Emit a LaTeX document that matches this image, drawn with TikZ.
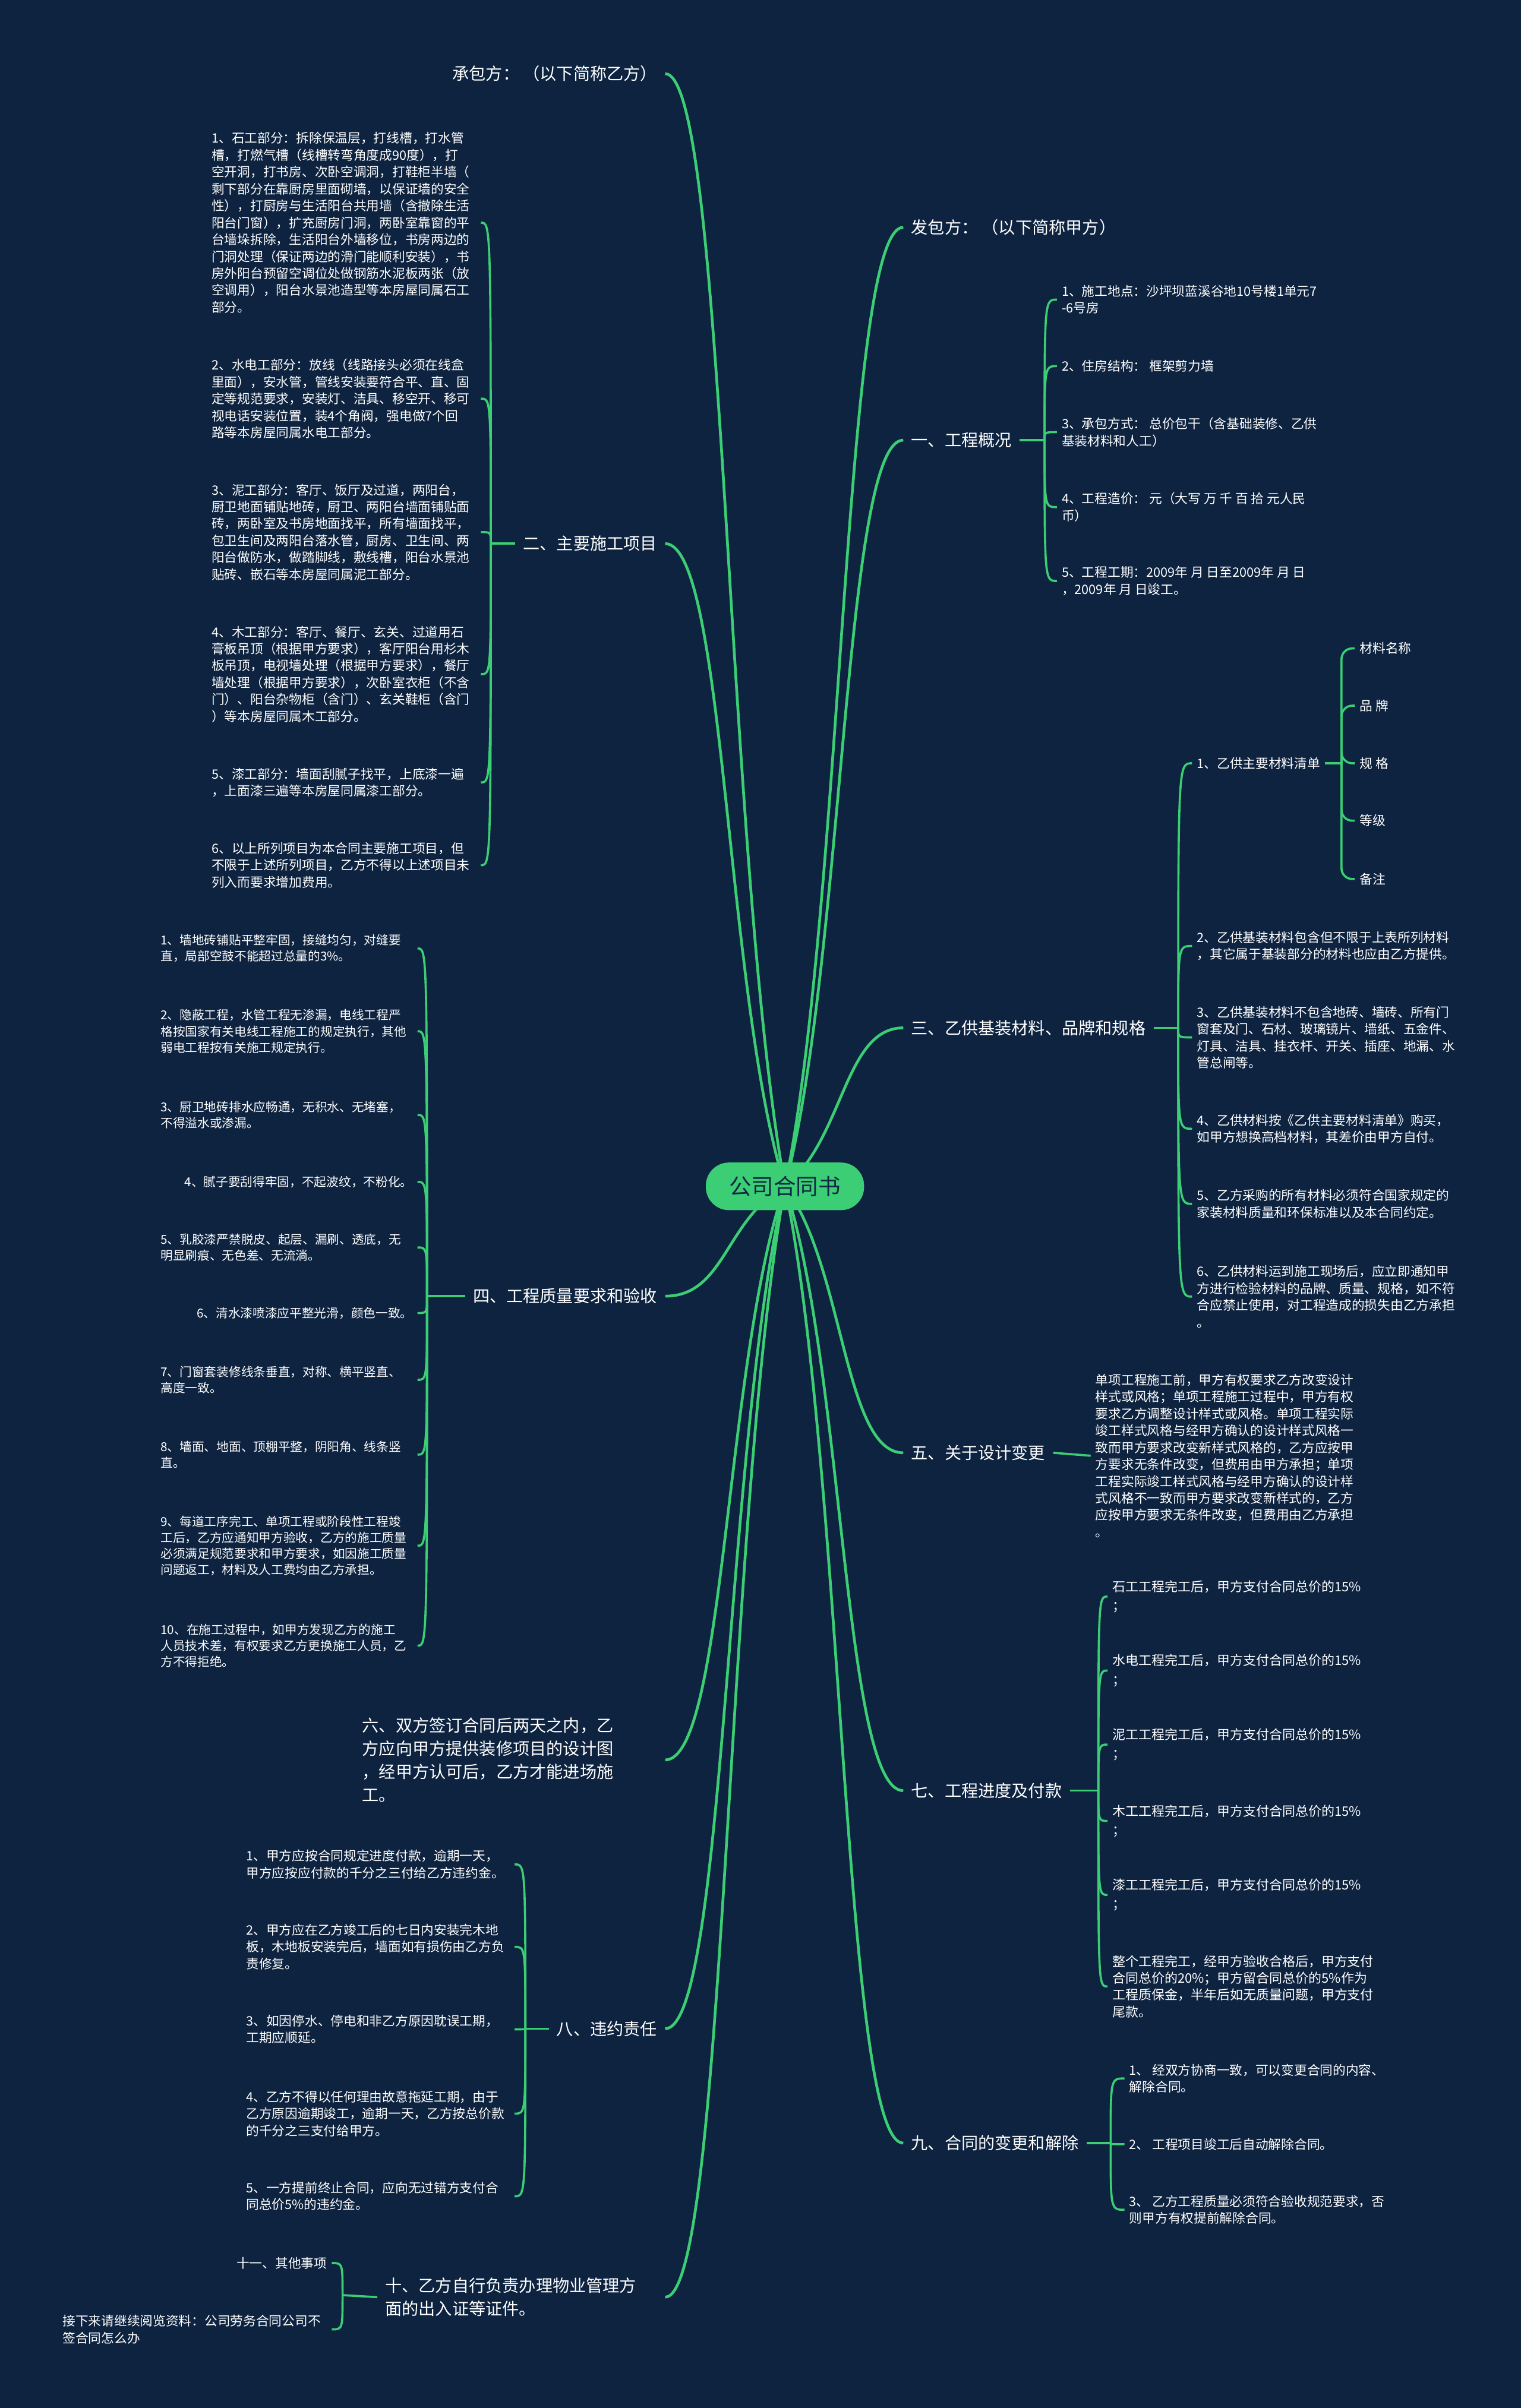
\documentclass[tikz,border=0pt]{standalone}
\usepackage{fontspec}
\setmainfont{Noto Sans CJK SC}
\usetikzlibrary{calc}
\pgfdeclarelayer{edges}
\pgfsetlayers{edges,main}
\definecolor{bgc}{RGB}{13,35,64}
\definecolor{lg}{RGB}{60,206,116}
\definecolor{rootc}{RGB}{60,206,116}
\definecolor{roottext}{RGB}{16,40,70}
\tikzset{
  lone/.style={draw=lg, line width=1.8pt},
  ltwo/.style={draw=lg, line width=1.4pt},
  topic/.style={text=white, font={\fontsize{10.9}{15}\selectfont}, inner sep=5pt, align=left},
  item/.style={text=white, font={\fontsize{8.4}{11}\selectfont}, inner sep=3pt, align=left},
  itemq/.style={item, font={\fontsize{8}{10.5}\selectfont}},
  itemp/.style={item, font={\fontsize{8.5}{12.5}\selectfont}},
  rootbox/.style={fill=rootc, text=roottext, rounded corners=15pt, minimum width=103pt, minimum height=31pt, font={\fontsize{14.5}{16}\selectfont}, inner sep=0pt},
}
\newcommand\topicline[2]{\draw[lone] let \p1=(#1), \p2=(#2) in (\p1) .. controls ({\x1+0.5*(\x2-\x1)},{\y1+0.3*(\y2-\y1)}) and ({\x1+0.5*(\x2-\x1)},\y2) .. (\p2);}
\newcommand\subline[2]{\draw[ltwo] (#1) .. controls (#1 |- #2) .. (#2);}
\begin{document}
\begin{tikzpicture}[x=1pt,y=-1pt]
\useasboundingbox (0,0) rectangle (990,1568);
\begin{pgfonlayer}{edges}
\fill[bgc] (0,0) rectangle (990,1568);
\end{pgfonlayer}

% root
\node[rootbox] (root) at (511,772.5) {公司合同书};

% right topics
\node[topic, anchor=west] (fb) at (588,148) {发包方： （以下简称甲方）};
\node[topic, anchor=west] (t1) at (588,286.6) {一、工程概况};
\node[topic, anchor=west] (t3) at (588,669.3) {三、乙供基装材料、品牌和规格};
\node[topic, anchor=west] (t5) at (588,946) {五、关于设计变更};
\node[topic, anchor=west] (t7) at (588,1166) {七、工程进度及付款};
\node[topic, anchor=west] (t9) at (588,1395.5) {九、合同的变更和解除};

% left topics
\node[topic, anchor=east] (cb) at (433,48) {承包方： （以下简称乙方）};
\node[topic, anchor=east] (t2) at (433,354) {二、主要施工项目};
\node[topic, anchor=east] (t4) at (433,844) {四、工程质量要求和验收};
\node[topic, anchor=east, text width=192pt] (t6) at (433,1146) {六、双方签订合同后两天之内，乙\\方应向甲方提供装修项目的设计图\\，经甲方认可后，乙方才能进场施\\工。};
\node[topic, anchor=east] (t8) at (433,1321) {八、违约责任};
\node[topic, anchor=east, text width=177pt] (t10) at (433,1495.8) {十、乙方自行负责办理物业管理方\\面的出入证等证件。};

% group 一
\coordinate (J1) at (680,286.6);
\node[item, anchor=west] (a1) at (688,195.1) {1、施工地点：沙坪坝蓝溪谷地10号楼1单元7\\-6号房};
\node[item, anchor=west] (a2) at (688,238.4) {2、住房结构： 框架剪力墙};
\node[item, anchor=west] (a3) at (688,281.4) {3、承包方式： 总价包干（含基础装修、乙供\\基装材料和人工）};
\node[item, anchor=west] (a4) at (688,330.2) {4、工程造价： 元（大写 万 千 百 拾 元人民\\币）};
\node[item, anchor=west] (a5) at (688,378.3) {5、工程工期：2009年 月 日至2009年 月 日\\，2009年 月 日竣工。};

% group 三
\coordinate (J3) at (767,669.3);
\node[item, anchor=west] (b1) at (776,497) {1、乙供主要材料清单};
\node[item, anchor=west] (b2) at (776,616) {2、乙供基装材料包含但不限于上表所列材料\\，其它属于基装部分的材料也应由乙方提供。};
\node[item, anchor=west] (b3) at (776,675.5) {3、乙供基装材料不包含地砖、墙砖、所有门\\窗套及门、石材、玻璃镜片、墙纸、五金件、\\灯具、洁具、挂衣杆、开关、插座、地漏、水\\管总闸等。};
\node[item, anchor=west] (b4) at (776,735) {4、乙供材料按《乙供主要材料清单》购买，\\如甲方想换高档材料，其差价由甲方自付。};
\node[item, anchor=west] (b5) at (776,783.9) {5、乙方采购的所有材料必须符合国家规定的\\家装材料质量和环保标准以及本合同约定。};
\node[item, anchor=west] (b6) at (776,844.3) {6、乙供材料运到施工现场后，应立即通知甲\\方进行检验材料的品牌、质量、规格，如不符\\合应禁止使用，对工程造成的损失由乙方承担\\。};

% materials list
\coordinate (Jm) at (873.3,497);
\node[item, anchor=west] (m1) at (882,422.2) {材料名称};
\node[item, anchor=west] (m2) at (882,459.5) {品 牌};
\node[item, anchor=west] (m3) at (882,497) {规 格};
\node[item, anchor=west] (m4) at (882,534.4) {等级};
\node[item, anchor=west] (m5) at (882,572.4) {备注};

% group 五
\node[item, anchor=west] (c1) at (710,947.9) {单项工程施工前，甲方有权要求乙方改变设计\\样式或风格；单项工程施工过程中，甲方有权\\要求乙方调整设计样式或风格。单项工程实际\\竣工样式风格与经甲方确认的设计样式风格一\\致而甲方要求改变新样式风格的，乙方应按甲\\方要求无条件改变，但费用由甲方承担；单项\\工程实际竣工样式风格与经甲方确认的设计样\\式风格不一致而甲方要求改变新样式的，乙方\\应按甲方要求无条件改变，但费用由乙方承担\\。};

% group 七
\coordinate (J7) at (715,1166);
\node[itemp, anchor=west] (d1) at (721,1039.6) {石工工程完工后，甲方支付合同总价的15\%\\；};
\node[itemp, anchor=west] (d2) at (721,1087.8) {水电工程完工后，甲方支付合同总价的15\%\\；};
\node[itemp, anchor=west] (d3) at (721,1136) {泥工工程完工后，甲方支付合同总价的15\%\\；};
\node[itemp, anchor=west] (d4) at (721,1185.7) {木工工程完工后，甲方支付合同总价的15\%\\；};
\node[itemp, anchor=west] (d5) at (721,1233.9) {漆工工程完工后，甲方支付合同总价的15\%\\；};
\node[item, anchor=west, font={\fontsize{8.5}{10.9}\selectfont}] (d6) at (721,1293.5) {整个工程完工，经甲方验收合格后，甲方支付\\合同总价的20\%；甲方留合同总价的5\%作为\\工程质保金，半年后如无质量问题，甲方支付\\尾款。};

% group 九
\coordinate (J9) at (723,1395.5);
\node[item, anchor=west] (e1) at (732,1353.4) {1、 经双方协商一致，可以变更合同的内容、\\解除合同。};
\node[item, anchor=west] (e2) at (732,1396.2) {2、 工程项目竣工后自动解除合同。};
\node[item, anchor=west] (e3) at (732,1438.9) {3、 乙方工程质量必须符合验收规范要求，否\\则甲方有权提前解除合同。};

% group 二
\coordinate (J2) at (319.5,354);
\node[item, anchor=east, text width=172pt] (f1) at (313,145) {1、石工部分：拆除保温层，打线槽，打水管\\槽，打燃气槽（线槽转弯角度成90度），打\\空开洞，打书房、次卧空调洞，打鞋柜半墙（\\剩下部分在靠厨房里面砌墙，以保证墙的安全\\性），打厨房与生活阳台共用墙（含撤除生活\\阳台门窗），扩充厨房门洞，两卧室靠窗的平\\台墙垛拆除，生活阳台外墙移位，书房两边的\\门洞处理（保证两边的滑门能顺利安装），书\\房外阳台预留空调位处做钢筋水泥板两张（放\\空调用），阳台水景池造型等本房屋同属石工\\部分。};
\node[item, anchor=east, text width=172pt] (f2) at (313,259.6) {2、水电工部分：放线（线路接头必须在线盒\\里面），安水管，管线安装要符合平、直、固\\定等规范要求，安装灯、洁具、移空开、移可\\视电话安装位置，装4个角阀，强电做7个回\\路等本房屋同属水电工部分。};
\node[item, anchor=east, text width=172pt] (f3) at (313,346.5) {3、泥工部分：客厅、饭厅及过道，两阳台，\\厨卫地面铺贴地砖，厨卫、两阳台墙面铺贴面\\砖，两卧室及书房地面找平，所有墙面找平，\\包卫生间及两阳台落水管，厨房、卫生间、两\\阳台做防水，做踏脚线，敷线槽，阳台水景池\\贴砖、嵌石等本房屋同属泥工部分。};
\node[item, anchor=east, text width=172pt] (f4) at (313,439) {4、木工部分：客厅、餐厅、玄关、过道用石\\膏板吊顶（根据甲方要求），客厅阳台用杉木\\板吊顶，电视墙处理（根据甲方要求），餐厅\\墙处理（根据甲方要求），次卧室衣柜（不含\\门）、阳台杂物柜（含门）、玄关鞋柜（含门\\）等本房屋同属木工部分。};
\node[item, anchor=east, text width=172pt] (f5) at (313,509.5) {5、漆工部分：墙面刮腻子找平，上底漆一遍\\，上面漆三遍等本房屋同属漆工部分。};
\node[item, anchor=east, text width=172pt] (f6) at (313,563.4) {6、以上所列项目为本合同主要施工项目，但\\不限于上述所列项目，乙方不得以上述项目未\\列入而要求增加费用。};

% group 四
\coordinate (J4) at (278,844);
\node[itemq, anchor=east, text width=164pt] (g1) at (271.8,617.6) {1、墙地砖铺贴平整牢固，接缝均匀，对缝要\\直，局部空鼓不能超过总量的3\%。};
\node[itemq, anchor=east, text width=164pt] (g2) at (271.8,671.5) {2、隐蔽工程，水管工程无渗漏，电线工程严\\格按国家有关电线工程施工的规定执行，其他\\弱电工程按有关施工规定执行。};
\node[itemq, anchor=east, text width=164pt] (g3) at (271.8,726) {3、厨卫地砖排水应畅通，无积水、无堵塞，\\不得溢水或渗漏。};
\node[itemq, anchor=east] (g4) at (271.8,769.6) {4、腻子要刮得牢固，不起波纹，不粉化。};
\node[itemq, anchor=east, text width=164pt] (g5) at (271.8,812.3) {5、乳胶漆严禁脱皮、起层、漏刷、透底，无\\明显刷痕、无色差、无流淌。};
\node[itemq, anchor=east] (g6) at (271.8,855) {6、清水漆喷漆应平整光滑，颜色一致。};
\node[itemq, anchor=east, text width=164pt] (g7) at (271.8,898.5) {7、门窗套装修线条垂直，对称、横平竖直、\\高度一致。};
\node[itemq, anchor=east, text width=164pt] (g8) at (271.8,947.2) {8、墙面、地面、顶棚平整，阴阳角、线条竖\\直。};
\node[itemq, anchor=east, text width=164pt] (g9) at (271.8,1006.5) {9、每道工序完工、单项工程或阶段性工程竣\\工后，乙方应通知甲方验收，乙方的施工质量\\必须满足规范要求和甲方要求，如因施工质量\\问题返工，材料及人工费均由乙方承担。};
\node[itemq, anchor=east, text width=164pt] (g10) at (271.8,1071.6) {10、在施工过程中，如甲方发现乙方的施工\\人员技术差，有权要求乙方更换施工人员，乙\\方不得拒绝。};

% group 八
\coordinate (J8) at (342,1321);
\node[item, anchor=east, text width=171.5pt] (h1) at (335,1214) {1、甲方应按合同规定进度付款，逾期一天，\\甲方应按应付款的千分之三付给乙方违约金。};
\node[item, anchor=east, text width=171.5pt] (h2) at (335,1267.7) {2、甲方应在乙方竣工后的七日内安装完木地\\板，木地板安装完后，墙面如有损伤由乙方负\\责修复。};
\node[item, anchor=east, text width=171.5pt] (h3) at (335,1321.4) {3、如因停水、停电和非乙方原因耽误工期，\\工期应顺延。};
\node[item, anchor=east, text width=171.5pt] (h4) at (335,1376.3) {4、乙方不得以任何理由故意拖延工期，由于\\乙方原因逾期竣工，逾期一天，乙方按总价款\\的千分之三支付给甲方。};
\node[item, anchor=east, text width=171.5pt] (h5) at (335,1430.1) {5、一方提前终止合同，应向无过错方支付合\\同总价5\%的违约金。};

% group 十
\coordinate (J10) at (223,1494.5);
\node[item, anchor=east] (k1) at (216,1473.6) {十一、其他事项};
\node[item, anchor=east, text width=172pt] (k2) at (216,1516.8) {接下来请继续阅览资料：公司劳务合同公司不\\签合同怎么办};

\begin{pgfonlayer}{edges}
% level 1
\topicline{root.center}{fb.west}
\topicline{root.center}{t1.west}
\topicline{root.center}{t3.west}
\topicline{root.center}{t5.west}
\topicline{root.center}{t7.west}
\topicline{root.center}{t9.west}
\topicline{root.center}{cb.east}
\topicline{root.center}{t2.east}
\topicline{root.center}{t4.east}
\topicline{root.center}{t6.east}
\topicline{root.center}{t8.east}
\topicline{root.center}{t10.east}
% stubs
\draw[ltwo] (t1.east) -- (J1);
\draw[ltwo] (t3.east) -- (J3);
\draw[ltwo] (b1.east) -- (Jm);
\draw[ltwo] (t5.east) -- (c1.west);
\draw[ltwo] (t7.east) -- (J7);
\draw[ltwo] (t9.east) -- (J9);
\draw[ltwo] (t2.west) -- (J2);
\draw[ltwo] (t4.west) -- (J4);
\draw[ltwo] (t8.west) -- (J8);
\draw[ltwo] (t10.west) -- (J10);
% level 2
\foreach \c in {a1,a2,a3,a4,a5} {\subline{J1}{\c.west}}
\foreach \c in {b1,b2,b3,b4,b5,b6} {\subline{J3}{\c.west}}
\foreach \c in {d1,d2,d3,d4,d5,d6} {\subline{J7}{\c.west}}
\foreach \c in {e1,e2,e3} {\subline{J9}{\c.west}}
\foreach \c in {f1,f2,f3,f4,f5,f6} {\subline{J2}{\c.east}}
\foreach \c in {g1,g2,g3,g4,g5,g6,g7,g8,g9,g10} {\subline{J4}{\c.east}}
\foreach \c in {h1,h2,h3,h4,h5} {\subline{J8}{\c.east}}
\foreach \c in {k1,k2} {\subline{J10}{\c.east}}
% level 3
\foreach \c in {m1,m2,m3,m4,m5} {\draw[ltwo, rounded corners=7pt] (Jm) |- (\c.west);}
\end{pgfonlayer}
\end{tikzpicture}
\end{document}
